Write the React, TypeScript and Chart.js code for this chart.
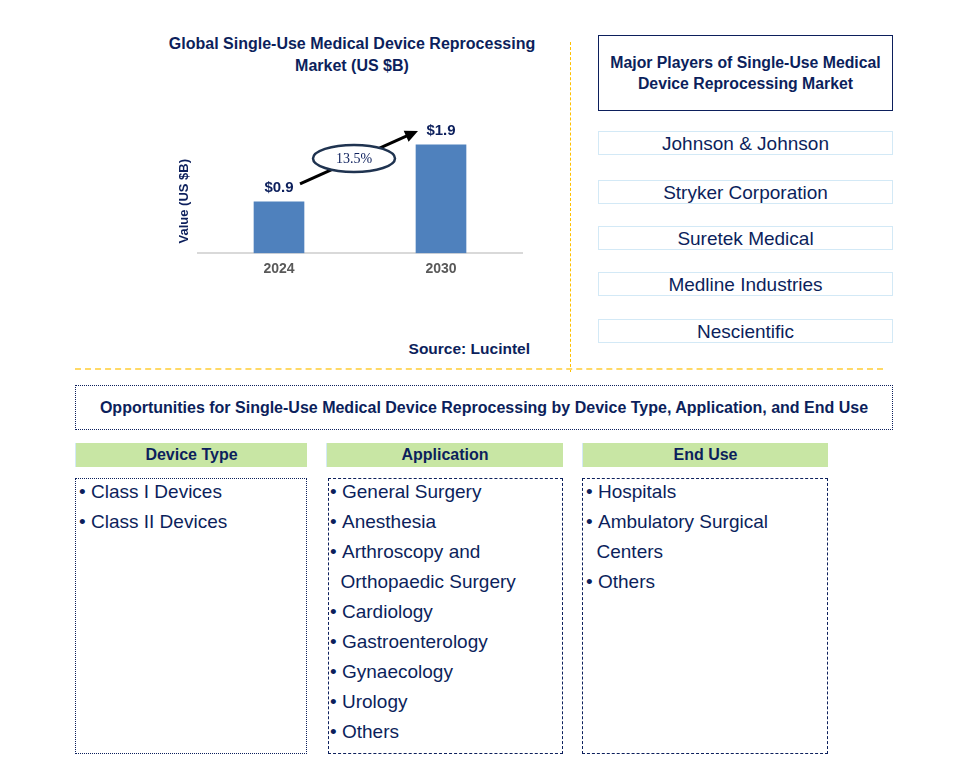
import React, { useEffect, useRef } from "react";
import { Chart, registerables } from "chart.js";

Chart.register(...registerables);

// ---------- data ----------
const years = ["2024", "2030"];
const marketValues = [0.9, 1.9];
const valueLabels = ["$0.9", "$1.9"];
const cagrLabel = "13.5%";
const chartTitleLines = ["Global Single-Use Medical Device Reprocessing", "Market (US $B)"];
const yAxisTitle = "Value (US $B)";
const sourceText = "Source: Lucintel";
const playersTitle = ["Major Players of Single-Use Medical", "Device Reprocessing Market"];
const players = ["Johnson & Johnson", "Stryker Corporation", "Suretek Medical", "Medline Industries", "Nescientific"];
const opportunitiesTitle =
  "Opportunities for Single-Use Medical Device Reprocessing by Device Type, Application, and End Use";
const segmentTitles = ["Device Type", "Application", "End Use"];
const deviceTypes = [["Class I Devices"], ["Class II Devices"]];
const applications = [
  ["General Surgery"],
  ["Anesthesia"],
  ["Arthroscopy and", "Orthopaedic Surgery"],
  ["Cardiology"],
  ["Gastroenterology"],
  ["Gynaecology"],
  ["Urology"],
  ["Others"],
];
const endUses = [["Hospitals"], ["Ambulatory Surgical", "Centers"], ["Others"]];

// ---------- styles ----------
const NAVY = "#0c1f5c";
const FONT = "'Liberation Sans', Arial, Helvetica, sans-serif";

const annotationPlugin = {
  id: "annotations",
  afterDatasetsDraw(chart: any) {
    const ctx = chart.ctx;
    const meta = chart.getDatasetMeta(0);
    const yScale = chart.scales.y;
    const area = chart.chartArea;
    ctx.save();
    // y axis title
    ctx.save();
    ctx.translate(area.left - 14, area.bottom - 52);
    ctx.rotate(-Math.PI / 2);
    ctx.font = `bold 13px ${FONT}`;
    ctx.fillStyle = NAVY;
    ctx.textAlign = "center";
    ctx.textBaseline = "middle";
    ctx.fillText(yAxisTitle, 0, 0);
    ctx.restore();
    // value labels
    ctx.font = `bold 15px ${FONT}`;
    ctx.fillStyle = NAVY;
    ctx.textAlign = "center";
    ctx.textBaseline = "middle";
    meta.data.forEach((bar: any, i: number) => {
      ctx.fillText(valueLabels[i], bar.x, bar.y - 14);
    });
    // arrow
    const b0 = meta.data[0];
    const b1 = meta.data[1];
    const x0 = b0.x + 21;
    const y0 = yScale.getPixelForValue(marketValues[0]) - 18;
    const x1 = b1.x - 23;
    const y1 = yScale.getPixelForValue(marketValues[1]) - 14;
    const ang = Math.atan2(y1 - y0, x1 - x0);
    const headLen = 13;
    const headW = 6;
    ctx.strokeStyle = "#000";
    ctx.lineWidth = 3;
    ctx.beginPath();
    ctx.moveTo(x0, y0);
    ctx.lineTo(x1 - Math.cos(ang) * (headLen - 2), y1 - Math.sin(ang) * (headLen - 2));
    ctx.stroke();
    ctx.fillStyle = "#000";
    ctx.beginPath();
    ctx.moveTo(x1, y1);
    ctx.lineTo(
      x1 - Math.cos(ang) * headLen - Math.sin(ang) * headW,
      y1 - Math.sin(ang) * headLen + Math.cos(ang) * headW
    );
    ctx.lineTo(
      x1 - Math.cos(ang) * headLen + Math.sin(ang) * headW,
      y1 - Math.sin(ang) * headLen - Math.cos(ang) * headW
    );
    ctx.closePath();
    ctx.fill();
    // ellipse
    const cx = (x0 + x1) / 2 - 5;
    const cy = (y0 + y1) / 2 + 1;
    ctx.beginPath();
    ctx.ellipse(cx, cy, 41, 13.5, 0, 0, Math.PI * 2);
    ctx.fillStyle = "#fff";
    ctx.fill();
    ctx.lineWidth = 2.5;
    ctx.strokeStyle = "#1f3350";
    ctx.stroke();
    ctx.fillStyle = NAVY;
    ctx.font = `14px 'Liberation Serif', 'Times New Roman', serif`;
    ctx.fillText(cagrLabel, cx, cy + 1);
    ctx.restore();
  },
};

function BarChart() {
  const ref = useRef<HTMLCanvasElement>(null);
  useEffect(() => {
    if (!ref.current) return;
    const chart = new Chart(ref.current, {
      type: "bar",
      data: {
        labels: years,
        datasets: [
          {
            data: marketValues,
            backgroundColor: "#4f81bd",
            barThickness: 50,
          },
        ],
      },
      options: {
        animation: false,
        responsive: false,
        maintainAspectRatio: false,
        events: [],
        layout: { padding: { top: 29, left: 48, right: 18, bottom: 13 } },
        plugins: {
          legend: { display: false },
          tooltip: { enabled: false },
          title: { display: false },
        },
        scales: {
          x: {
            grid: { display: false, drawTicks: false },
            border: { display: true, color: "#d9d9d9", width: 2 },
            ticks: {
              color: "#595959",
              font: { family: FONT, size: 14, weight: "bold" },
              padding: 8,
            },
          },
          y: {
            display: false,
            min: 0,
            max: 2.6,
          },
        },
      },
      plugins: [annotationPlugin],
    });
    return () => chart.destroy();
  }, []);
  return (
    <canvas
      ref={ref}
      width={390}
      height={223}
      style={{ position: "absolute", left: 150, top: 76, width: 390, height: 223 }}
    />
  );
}

function Box(props: { l: number; t: number; w: number; h: number; style?: any; children?: any }) {
  return (
    <div
      style={{
        position: "absolute",
        left: props.l,
        top: props.t,
        width: props.w,
        height: props.h,
        boxSizing: "border-box",
        display: "flex",
        alignItems: "center",
        justifyContent: "center",
        textAlign: "center",
        ...props.style,
      }}
    >
      {props.children}
    </div>
  );
}

function List(props: { items: string[][]; bulletX: number; textX: number }) {
  const { items, bulletX, textX } = props;
  return (
    <div
      style={{
        position: "absolute",
        left: bulletX,
        top: 477,
        fontSize: 19,
        lineHeight: "30px",
        color: NAVY,
        whiteSpace: "nowrap",
      }}
    >
      {items.map((lines, i) => (
        <div key={i} style={{ position: "relative", paddingLeft: textX - bulletX }}>
          <span style={{ position: "absolute", left: 0, top: 0 }}>•</span>
          {lines.map((ln, j) => (
            <div key={j} style={{ marginLeft: j > 0 ? -1.5 : 0 }}>
              {ln}
            </div>
          ))}
        </div>
      ))}
    </div>
  );
}

export default function App() {
  const playerTops = [131, 180, 226, 272, 319];
  const headerBoxes = [
    { l: 75, w: 232 },
    { l: 326, w: 237 },
    { l: 582, w: 246 },
  ];
  const listBoxes = [
    { l: 75, w: 232, border: `1px dotted ${NAVY}` },
    { l: 328, w: 235, border: `1px dashed ${NAVY}` },
    { l: 582, w: 246, border: `1px dashed ${NAVY}` },
  ];
  return (
    <div
      style={{
        position: "absolute",
        left: 0,
        top: 0,
        width: 957,
        height: 774,
        background: "#fff",
        fontFamily: FONT,
        color: NAVY,
        overflow: "hidden",
      }}
    >
      {/* chart title */}
      <div
        style={{
          position: "absolute",
          left: 152,
          top: 33,
          width: 400,
          textAlign: "center",
          fontWeight: "bold",
          fontSize: 16,
          lineHeight: "22px",
        }}
      >
        {chartTitleLines.map((l, i) => (
          <div key={i}>{l}</div>
        ))}
      </div>
      <BarChart />
      <div
        style={{
          position: "absolute",
          right: 957 - 530,
          top: 339,
          fontWeight: "bold",
          fontSize: 15.5,
          lineHeight: "20px",
          whiteSpace: "nowrap",
        }}
      >
        {sourceText}
      </div>

      {/* separators */}
      <div style={{ position: "absolute", left: 570, top: 42, height: 330, borderLeft: "1px dashed #ffc000" }} />
      <div style={{ position: "absolute", left: 75, top: 368, width: 808, borderTop: "2px dashed #ffd966" }} />

      {/* players */}
      <Box l={598} t={35} w={295} h={76} style={{ border: `1px solid ${NAVY}`, fontWeight: "bold", fontSize: 15.8, lineHeight: "21px", flexDirection: "column" }}>
        {playersTitle.map((l, i) => (
          <div key={i}>{l}</div>
        ))}
      </Box>
      {players.map((p, i) => (
        <Box key={p} l={598} t={playerTops[i]} w={295} h={24} style={{ border: "1.5px solid #d3e9f6", fontSize: 19, paddingTop: 1 }}>
          {p}
        </Box>
      ))}

      {/* opportunities */}
      <Box l={75} t={385} w={818} h={45} style={{ border: `1px dotted ${NAVY}`, fontWeight: "bold", fontSize: 16 }}>
        {opportunitiesTitle}
      </Box>
      {segmentTitles.map((s, i) => (
        <Box
          key={s}
          l={headerBoxes[i].l}
          t={443}
          w={headerBoxes[i].w}
          h={24}
          style={{ background: "#c8e6a4", borderLeft: "1.5px solid #d3e9f6", fontWeight: "bold", fontSize: 16 }}
        >
          {s}
        </Box>
      ))}
      {listBoxes.map((b, i) => (
        <div
          key={i}
          style={{
            position: "absolute",
            left: b.l,
            top: 478,
            width: b.w,
            height: 276,
            boxSizing: "border-box",
            border: b.border,
          }}
        />
      ))}
      <List items={deviceTypes} bulletX={79} textX={91} />
      <List items={applications} bulletX={330} textX={342} />
      <List items={endUses} bulletX={586} textX={598} />
    </div>
  );
}
